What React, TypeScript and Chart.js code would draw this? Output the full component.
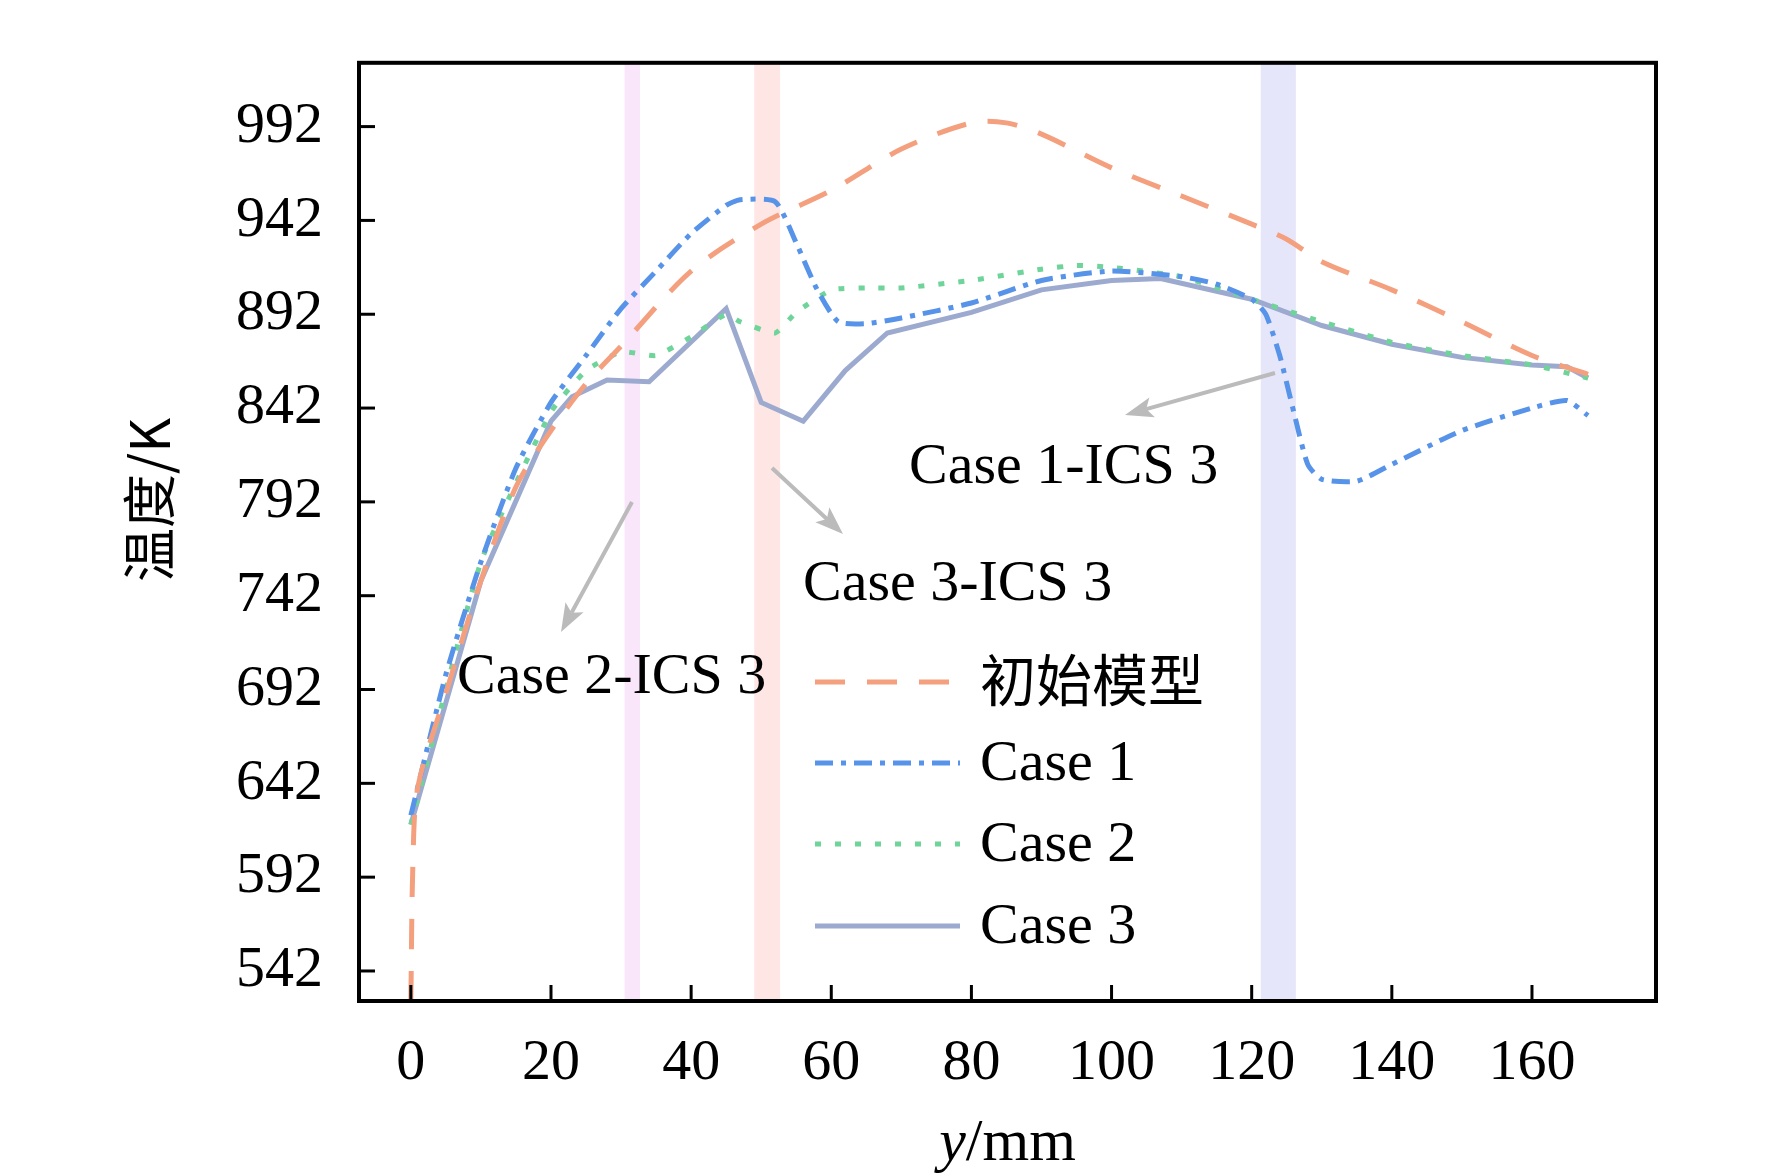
import React, { useEffect, useRef } from "react";
import { Chart, registerables } from "chart.js";
Chart.register(...registerables);

const initX = [0, 0.3, 1, 5, 10, 15, 20, 25, 30, 40, 50, 60, 70, 80, 85, 90, 100, 110, 120, 125, 130, 140, 150, 160, 168];
const initY = [526, 600, 640, 690, 750, 800, 830, 855, 875, 915, 940, 958, 980, 994, 994, 988, 970, 955, 940, 932, 920, 905, 888, 870, 860];
const c1X = [0, 5, 10, 15, 20, 25, 30, 35, 40, 45, 47, 52, 55, 58, 61, 65, 70, 80, 90, 100, 110, 115, 120, 122, 124, 126, 128, 130, 135, 140, 150, 160, 165, 168];
const c1Y = [625, 700, 760, 810, 845, 870, 895, 915, 935, 950, 953, 952, 930, 905, 888, 887, 890, 898, 910, 915, 912, 908, 900, 892, 870, 840, 812, 804, 803, 812, 830, 842, 846, 838];
const c2X = [0, 10, 20, 25, 30, 35, 40, 45, 47, 52, 55, 60, 65, 70, 80, 90, 95, 100, 110, 120, 130, 140, 150, 160, 168];
const c2Y = [620, 760, 840, 862, 872, 870, 880, 892, 888, 882, 893, 905, 906, 906, 910, 916, 918, 917, 912, 900, 888, 877, 870, 865, 858];
const c3X = [0, 10, 20, 23, 28, 34, 45, 50, 56, 62, 68, 80, 90, 100, 107, 120, 130, 140, 150, 160, 165, 168];
const c3Y = [620, 750, 835, 848, 857, 856, 895, 845, 835, 862, 882, 893, 905, 910, 911, 900, 886, 876, 869, 865, 864, 858];
const xTicks = [0, 20, 40, 60, 80, 100, 120, 140, 160];
const yTicks = [542, 592, 642, 692, 742, 792, 842, 892, 942, 992];
const bands = [
  { from: 30.5, to: 32.7, color: "rgba(245,200,245,0.45)" },
  { from: 49, to: 52.7, color: "rgba(250,200,195,0.45)" },
  { from: 121.3, to: 126.3, color: "rgba(200,200,245,0.45)" },
];
const names = ["初始模型", "Case 1", "Case 2", "Case 3"];
const colors = ["#F4A07F", "#5793E8", "#6ED49A", "#9DAACF"];
const dashes = [[30, 22], [18, 8, 5, 8], [6, 14], []];
const tensions = [0.3, 0.2, 0.15, 0];

const zip = (xs: number[], ys: number[]) => xs.map((x, i) => ({ x, y: ys[i] }));
const SERIF = "'Liberation Serif', 'Times New Roman', serif";

function arrow(ctx: CanvasRenderingContext2D, x1: number, y1: number, x2: number, y2: number) {
  ctx.save();
  ctx.strokeStyle = "#BBBBBB";
  ctx.fillStyle = "#BBBBBB";
  ctx.lineWidth = 4;
  const a = Math.atan2(y2 - y1, x2 - x1);
  const hx = x2 - 22 * Math.cos(a), hy = y2 - 22 * Math.sin(a);
  ctx.beginPath(); ctx.moveTo(x1, y1); ctx.lineTo(hx, hy); ctx.stroke();
  ctx.beginPath();
  ctx.moveTo(x2, y2);
  ctx.lineTo(x2 - 30 * Math.cos(a - 0.35), y2 - 30 * Math.sin(a - 0.35));
  ctx.lineTo(hx, hy);
  ctx.lineTo(x2 - 30 * Math.cos(a + 0.35), y2 - 30 * Math.sin(a + 0.35));
  ctx.closePath(); ctx.fill();
  ctx.restore();
}

const deco = {
  id: "deco",
  beforeDatasetsDraw(chart: any) {
    const { ctx, chartArea: a, scales } = chart;
    for (const b of bands) {
      const x1 = scales.x.getPixelForValue(b.from), x2 = scales.x.getPixelForValue(b.to);
      ctx.fillStyle = b.color;
      ctx.fillRect(x1, a.top, x2 - x1, a.bottom - a.top);
    }
  },
  afterDraw(chart: any) {
    const { ctx, chartArea: a, scales } = chart;
    ctx.save();
    ctx.strokeStyle = "#000"; ctx.lineWidth = 4;
    ctx.strokeRect(a.left, a.top, a.right - a.left, a.bottom - a.top);
    ctx.lineWidth = 3;
    for (const t of xTicks) {
      const p = scales.x.getPixelForValue(t);
      ctx.beginPath(); ctx.moveTo(p, a.bottom); ctx.lineTo(p, a.bottom - 16); ctx.stroke();
    }
    for (const t of yTicks) {
      const p = scales.y.getPixelForValue(t);
      ctx.beginPath(); ctx.moveTo(a.left, p); ctx.lineTo(a.left + 16, p); ctx.stroke();
    }
    ctx.fillStyle = "#000";
    ctx.font = `58px ${SERIF}`;
    ctx.textBaseline = "alphabetic";
    ctx.textAlign = "left";
    ctx.fillText("Case 1-ICS 3", 909, 483);
    ctx.fillText("Case 3-ICS 3", 803, 600);
    ctx.fillText("Case 2-ICS 3", 457, 693);
    arrow(ctx, 1275, 373, 1125, 415);
    arrow(ctx, 772, 468, 843, 534);
    arrow(ctx, 632, 502, 561, 632);
    const ly = [682, 763, 844, 926];
    for (let i = 0; i < 4; i++) {
      ctx.save();
      ctx.strokeStyle = colors[i]; ctx.lineWidth = 5; ctx.setLineDash(dashes[i]);
      ctx.beginPath(); ctx.moveTo(815, ly[i]); ctx.lineTo(960, ly[i]); ctx.stroke();
      ctx.restore();
      ctx.font = i === 0 ? `56px 'Noto Sans CJK SC', sans-serif` : `58px ${SERIF}`;
      ctx.textBaseline = "middle";
      ctx.fillText(names[i], 980, ly[i] + (i === 0 ? -2 : 2));
    }
    ctx.textBaseline = "alphabetic";
    ctx.font = `italic 60px ${SERIF}`;
    const w1 = ctx.measureText("y").width;
    ctx.font = `60px ${SERIF}`;
    const w2 = ctx.measureText("/mm").width;
    const cx = (a.left + a.right) / 2 - (w1 + w2) / 2;
    ctx.font = `italic 60px ${SERIF}`;
    ctx.fillText("y", cx, 1160);
    ctx.font = `60px ${SERIF}`;
    ctx.fillText("/mm", cx + w1, 1160);
    ctx.translate(170, 500); ctx.rotate(-Math.PI / 2);
    ctx.textAlign = "center";
    ctx.font = `54px 'Noto Sans CJK SC', sans-serif`;
    ctx.fillText("温度/K", 0, 0);
    ctx.restore();
  },
};

export default function App() {
  const ref = useRef<HTMLCanvasElement>(null);
  useEffect(() => {
    document.body.style.margin = "0";
    const data = [zip(initX, initY), zip(c1X, c1Y), zip(c2X, c2Y), zip(c3X, c3Y)];
    const chart = new Chart(ref.current!, {
      type: "line",
      data: {
        datasets: data.map((d, i) => ({
          label: names[i], data: d, borderColor: colors[i], borderWidth: 5,
          borderDash: dashes[i], pointRadius: 0, tension: tensions[i], fill: false,
        })),
      },
      options: {
        animation: false, responsive: false,
        layout: { padding: { top: -52, right: 116, left: 0, bottom: 0 } },
        plugins: { legend: { display: false }, tooltip: { enabled: false } },
        scales: {
          x: {
            type: "linear", min: -7.4, max: 177.7,
            afterBuildTicks: (s: any) => { s.ticks = xTicks.map((v) => ({ value: v })); },
            afterFit: (s: any) => { s.height = 175; },
            grid: { display: false }, border: { display: false },
            ticks: { color: "#000", font: { family: SERIF, size: 58 }, padding: 20, maxRotation: 0, autoSkip: false },
          },
          y: {
            min: 526, max: 1026,
            afterBuildTicks: (s: any) => { s.ticks = yTicks.map((v) => ({ value: v })); },
            afterFit: (s: any) => { s.width = 359; },
            grid: { display: false }, border: { display: false },
            ticks: { color: "#000", font: { family: SERIF, size: 58 }, padding: 28, autoSkip: false },
          },
        },
      },
      plugins: [deco],
    });
    return () => chart.destroy();
  }, []);
  return <canvas ref={ref} width={1772} height={1176} style={{ display: "block" }} />;
}
